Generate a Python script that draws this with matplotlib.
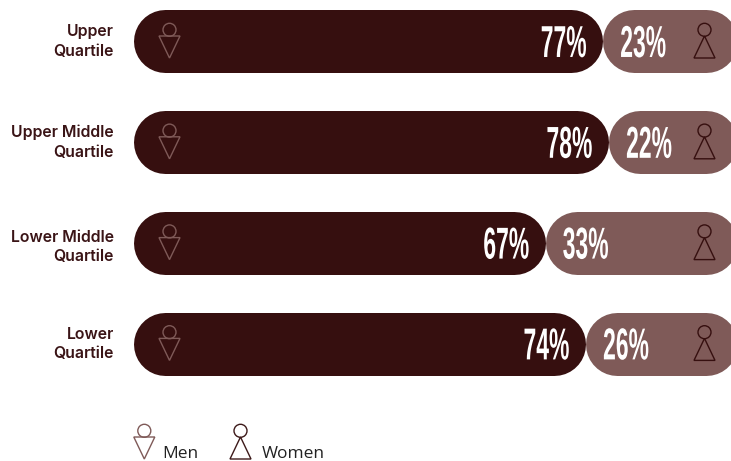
import matplotlib
matplotlib.use("Agg")
import matplotlib.pyplot as plt
from matplotlib.patches import Circle, Polygon
from matplotlib.patheffects import AbstractPathEffect
from matplotlib.transforms import Affine2D

# quartile pay split, percent
quartiles = ["Upper\nQuartile", "Upper Middle\nQuartile", "Lower Middle\nQuartile", "Lower\nQuartile"]
men = [77, 78, 67, 74]
women = [23, 22, 33, 26]

DARK = "#360f0f"
LIGHT = "#7f5a58"
TEXT = "#3a1416"

W, H = 731, 461
PX_PER_PCT = 5.74
ZERO_PX = 160.7
ROW_TOP = 41.5
ROW_STEP = 100.8
BAR_PX = 63


class Stretch(AbstractPathEffect):
    # makes a text taller about its centre, no condensed display font here
    def __init__(self, yscale):
        super().__init__()
        self.yscale = yscale

    def draw_path(self, renderer, gc, tpath, affine, rgbFace=None):
        ext = tpath.get_extents(affine)
        cy = (ext.y0 + ext.y1) / 2
        tall = affine + Affine2D().translate(0, -cy).scale(1, self.yscale).translate(0, cy)
        renderer.draw_path(gc, tpath, tall, rgbFace)


def pill(ax, x0, x1, y, color):
    # thick line with round caps, the ends are pulled in by the cap radius
    r = BAR_PX / 2 / PX_PER_PCT
    ax.plot([x0 + r, x1 - r], [y, y], color=color, lw=BAR_PX * 72 / 100,
            solid_capstyle="round", zorder=2)


def person(ax, cx, cy, color, flipped):
    # circle head and a triangle body, cy is the middle of the figure
    ax.add_patch(Circle((cx, cy - 11.7), 6.5, fill=False, ec=color, lw=1.0, zorder=3))
    if flipped:
        pts = [(cx - 10.5, cy - 5.5), (cx + 10.5, cy - 5.5), (cx, cy + 16.5)]
    else:
        pts = [(cx, cy - 5.5), (cx - 10.5, cy + 16.5), (cx + 10.5, cy + 16.5)]
    ax.add_patch(Polygon(pts, closed=True, fill=False, ec=color, lw=1.0, zorder=3))


def main():
    fig = plt.figure(figsize=(W / 100, H / 100), dpi=100)

    # bars in percent on x, row number on y
    ax = fig.add_axes([0, 0, 1, 1])
    ax.set_xlim(-ZERO_PX / PX_PER_PCT, (W - ZERO_PX) / PX_PER_PCT)
    ax.set_ylim((H - ROW_TOP) / ROW_STEP, -ROW_TOP / ROW_STEP)
    ax.axis("off")

    # icons and labels in pixels
    px = fig.add_axes([0, 0, 1, 1])
    px.set_xlim(0, W)
    px.set_ylim(H, 0)
    px.axis("off")
    px.patch.set_alpha(0)

    start = (133.5 - ZERO_PX) / PX_PER_PCT
    for i, (m, w) in enumerate(zip(men, women)):
        pill(ax, start, m, i, DARK)
        pill(ax, m, m + w + 0.5, i, LIGHT)

        y = ROW_TOP + i * ROW_STEP
        person(px, 169.5, y, LIGHT, True)
        person(px, 704.5, y, DARK, False)

        mx = ZERO_PX + m * PX_PER_PCT
        for label, x in ((f"{m}%", mx - 39), (f"{w}%", mx + 40.5)):
            px.text(x, y + 1.5, label, color="white", fontsize=16.5, family="Liberation Sans",
                    ha="center", va="center", fontweight="bold", zorder=4,
                    path_effects=[Stretch(1.95)])

        dy = 4 if i == 2 else 0
        px.text(114, y + dy, quartiles[i], color=TEXT, fontsize=11.4, family="Inter",
                fontweight="semibold", ha="right", va="center", linespacing=1.35)

    # legend
    person(px, 144.3, 442.5, LIGHT, True)
    px.text(162, 454, "Men", color="#222222", fontsize=12.5, family="Open Sans", va="center")
    person(px, 240.5, 442.5, "#3d1a1a", False)
    px.text(262, 454, "Women", color="#222222", fontsize=12.5, family="Open Sans", va="center")

    fig.savefig("out.png", dpi=100)


if __name__ == "__main__":
    main()
